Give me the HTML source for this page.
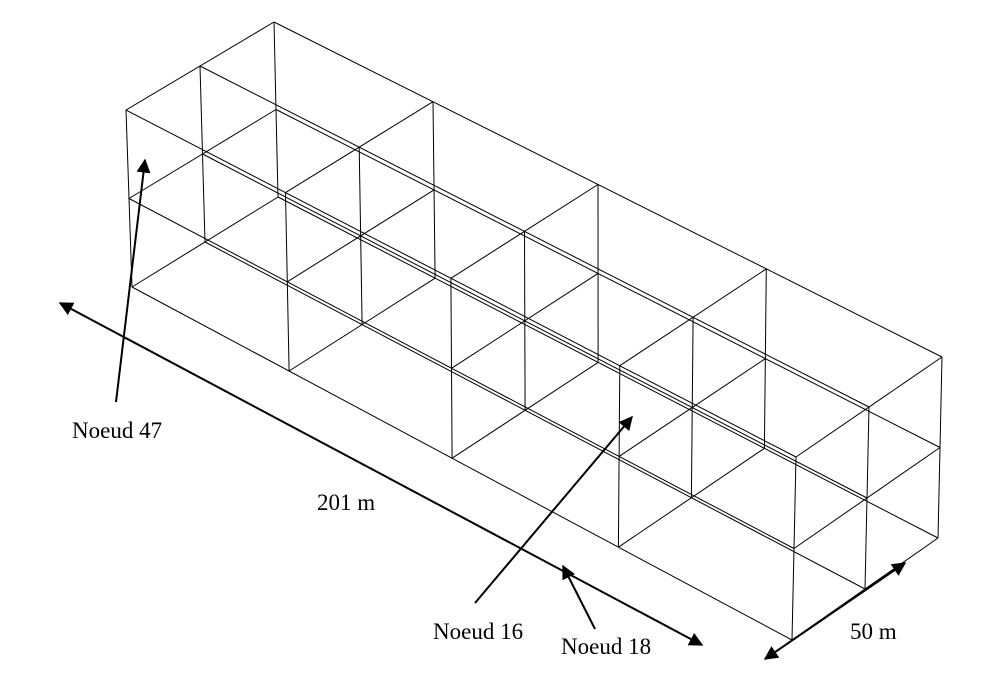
<!DOCTYPE html>
<html><head><meta charset="utf-8"><style>
html,body{margin:0;padding:0;background:#fff;width:1005px;height:691px;overflow:hidden}
svg text{font-family:"Liberation Serif",serif;font-size:23px;fill:#000}
</style></head><body>
<svg id="s" width="1005" height="691" viewBox="0 0 1005 691" xmlns="http://www.w3.org/2000/svg">
<defs>
<marker id="a" viewBox="0 0 10 10" refX="9" refY="5" markerWidth="14" markerHeight="14" markerUnits="userSpaceOnUse" orient="auto-start-reverse"><path d="M0,0 L10,5 L0,10 z" fill="#000"/></marker>
</defs>
<g id="grid" stroke="#000" stroke-width="1" fill="none"></g>
<g stroke="#000" stroke-width="2" fill="none">
<line x1="60" y1="303" x2="702" y2="645" marker-start="url(#a)" marker-end="url(#a)"/>
<line x1="765" y1="659" x2="905" y2="563" marker-start="url(#a)" marker-end="url(#a)"/>
<line x1="116" y1="402" x2="145" y2="160" marker-end="url(#a)"/>
<line x1="475" y1="603" x2="632" y2="417" marker-end="url(#a)"/>
<line x1="595" y1="629" x2="563" y2="566" marker-end="url(#a)"/>
</g>
<text x="72" y="438">Noeud 47</text>
<text x="317" y="510">201 m</text>
<text x="433" y="639">Noeud 16</text>
<text x="561" y="654">Noeud 18</text>
<text x="850" y="639">50 m</text>
</svg>
<script>
var C={
'000':[132,287],'002':[126,110],'020':[278,197],'022':[274,22],
'100':[792,640],'102':[796,457],'120':[938,538],'122':[942,357]};
var T=[0,0.238,0.485,0.737,1];
function P(l,w,h){
 var a=T[l],b=w/2,c=h/2,x=0,y=0;
 for(var i=0;i<2;i++)for(var j=0;j<2;j++)for(var k=0;k<2;k++){
  var f=(i?a:1-a)*(j?b:1-b)*(k?c:1-c);var p=C[''+i+(j?2:0)+(k?2:0)];
  x+=f*p[0];y+=f*p[1];}
 return [x,y];}
var g=document.getElementById('grid'),s='';
function L(p,q){s+='<line x1="'+p[0].toFixed(1)+'" y1="'+p[1].toFixed(1)+'" x2="'+q[0].toFixed(1)+'" y2="'+q[1].toFixed(1)+'"/>';}
for(var w=0;w<=2;w++)for(var h=0;h<=2;h++)L(P(0,w,h),P(4,w,h));
for(var l=0;l<=4;l++)for(var h=0;h<=2;h++)L(P(l,0,h),P(l,2,h));
for(var l=0;l<=4;l++)for(var w=0;w<=2;w++)L(P(l,w,0),P(l,w,2));
g.innerHTML=s;
</script>
</body></html>
